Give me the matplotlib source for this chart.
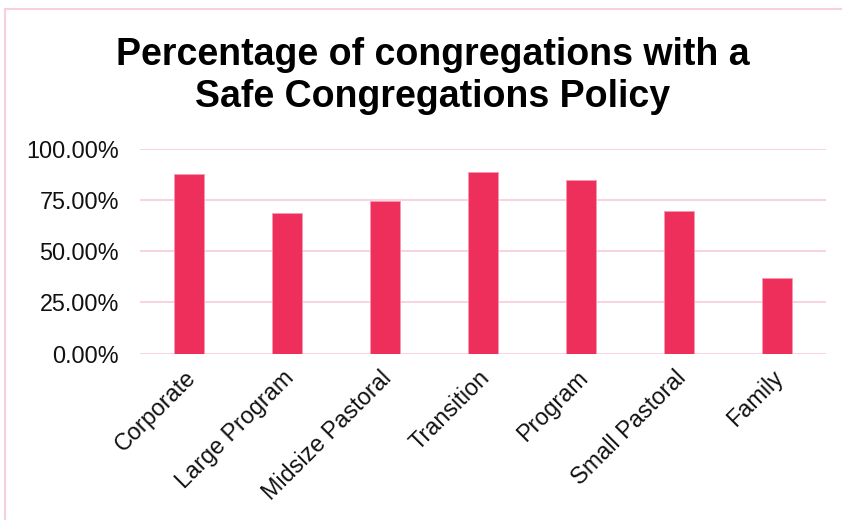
import matplotlib
matplotlib.use("Agg")
import matplotlib.pyplot as plt
from matplotlib.patches import Rectangle
from matplotlib.ticker import FuncFormatter
from matplotlib.transforms import ScaledTranslation

categories = ["Corporate", "Large Program", "Midsize Pastoral", "Transition",
              "Program", "Small Pastoral", "Family"]
values = [0.876, 0.687, 0.742, 0.885, 0.845, 0.697, 0.367]
yticks = [0.0, 0.25, 0.5, 0.75, 1.0]

plt.rcParams['font.family'] = ['Liberation Sans', 'DejaVu Sans']

W, H = 842, 520
fig = plt.figure(figsize=(W / 100, H / 100), dpi=100)
fig.patch.set_facecolor("white")

# chart border (pink, cut at right/bottom)
fig.add_artist(Rectangle((5 / W, -0.05), 1.2, 1 - 8.5 / H + 0.05,
                         transform=fig.transFigure, fill=False,
                         edgecolor="#F7D0DD", linewidth=1.5))

ax = fig.add_axes([140 / W, 1 - 353.7 / H, (826 - 140) / W, (353.7 - 148.5) / H])
x = list(range(len(categories)))
ax.bar(x, values, width=0.315, color="#EE2F5C", edgecolor="#F59AB0",
       linewidth=0.6, zorder=3)
ax.set_xlim(-0.5, len(categories) - 0.5)
ax.set_ylim(0, 1.0)
ax.set_yticks(yticks)
ax.yaxis.set_major_formatter(FuncFormatter(lambda v, p: f"{v * 100:.2f}%"))
ax.grid(axis="y", color="#F7D0DD", linewidth=1.3, zorder=0)
ax.set_axisbelow(True)
for s in ax.spines.values():
    s.set_visible(False)
ax.tick_params(axis="y", length=0, pad=15, labelsize=16.8, labelcolor="#111111")
ax.tick_params(axis="x", length=0, pad=4, labelsize=16.8, labelcolor="#111111")
ax.set_xticks(x)
ax.set_xticklabels(categories, rotation=45, ha="right", rotation_mode="anchor")
offset = ScaledTranslation(-5 / 100, -7 / 100, fig.dpi_scale_trans)
for lbl in ax.get_xticklabels():
    lbl.set_transform(lbl.get_transform() + offset)

fig.text(433 / W, 1 - 76 / H, "Percentage of congregations with a\nSafe Congregations Policy",
         ha="center", va="center", fontsize=27, fontweight="bold",
         linespacing=1.2, color="black")

fig.savefig("out.png", dpi=100, facecolor="white")
